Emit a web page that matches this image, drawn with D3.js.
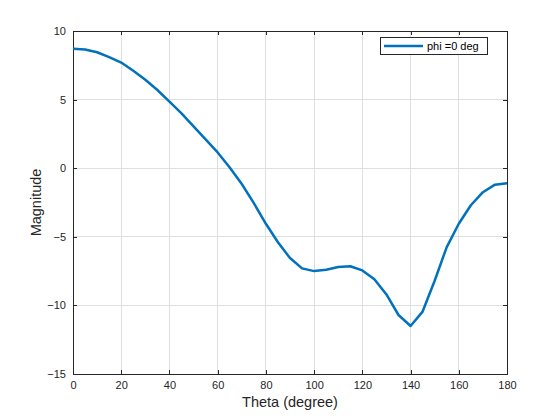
<!DOCTYPE html>
<html><head><meta charset="utf-8">
<script src="https://cdn.jsdelivr.net/npm/d3@7/dist/d3.min.js"></script>
<style>body{margin:0;background:#fff}svg{display:block}text{font-family:"Liberation Sans",Arial,sans-serif}</style>
</head><body><svg id="c" width="560" height="420"></svg>
<script>
const theta = [0,5,10,15,20,25,30,35,40,45,50,55,60,65,70,75,80,85,90,95,100,105,110,115,120,125,130,135,140,145,150,155,160,165,170,175,180];
const magnitude = [8.7,8.65,8.45,8.1,7.7,7.1,6.45,5.7,4.85,4.0,3.05,2.1,1.15,0.05,-1.15,-2.55,-4.05,-5.4,-6.55,-7.3,-7.5,-7.4,-7.2,-7.15,-7.45,-8.1,-9.2,-10.7,-11.5,-10.45,-8.2,-5.75,-4.05,-2.7,-1.75,-1.2,-1.1];
const xTicks = [0,20,40,60,80,100,120,140,160,180];
const yTicks = [-15,-10,-5,0,5,10];
const legendLabel = "phi =0 deg";

const svg = d3.select("#c");
const L=73,R=507,T=31,B=374;
const x = d3.scaleLinear().domain([0,180]).range([L,R]);
const y = d3.scaleLinear().domain([-15,10]).range([B,T]);
const g = svg.append("g");
// grid
g.selectAll(".gx").data(xTicks).enter().append("line")
 .attr("x1",d=>x(d)).attr("x2",d=>x(d)).attr("y1",T).attr("y2",B)
 .attr("stroke","#dfdfdf").attr("stroke-width",1).attr("shape-rendering","crispEdges");
g.selectAll(".gy").data(yTicks).enter().append("line")
 .attr("y1",d=>y(d)).attr("y2",d=>y(d)).attr("x1",L).attr("x2",R)
 .attr("stroke","#dfdfdf").attr("stroke-width",1).attr("shape-rendering","crispEdges");
// axes
const ax = d3.axisBottom(x).tickValues(xTicks).tickSizeInner(-4).tickSizeOuter(0).tickPadding(7);
const ay = d3.axisLeft(y).tickValues(yTicks).tickSizeInner(-4).tickSizeOuter(0).tickPadding(7);
const axT = d3.axisTop(x).tickValues(xTicks).tickSizeInner(-4).tickSizeOuter(0).tickFormat("");
const ayR = d3.axisRight(y).tickValues(yTicks).tickSizeInner(-4).tickSizeOuter(0).tickFormat("");
function style(s){s.selectAll("path,line").attr("stroke","#262626").attr("shape-rendering","crispEdges");
 s.selectAll("text").attr("fill","#262626").style("font-size","11px").style("font-family","'Liberation Sans',Arial,sans-serif");}
svg.append("g").attr("transform",`translate(0,${B})`).call(ax).call(style);
svg.append("g").attr("transform",`translate(${L},0)`).call(ay).call(style);
svg.append("g").attr("transform",`translate(0,${T})`).call(axT).call(style);
svg.append("g").attr("transform",`translate(${R},0)`).call(ayR).call(style);
// line
svg.append("path").datum(theta.map((t,i)=>[t,magnitude[i]]))
 .attr("d",d3.line().x(d=>x(d[0])).y(d=>y(d[1])))
 .attr("fill","none").attr("stroke","#0072BD").attr("stroke-width",2.5).attr("stroke-linejoin","round");
// labels
svg.append("text").attr("x",(L+R)/2).attr("y",407).attr("text-anchor","middle")
 .attr("fill","#262626").style("font-size","14.5px").text("Theta (degree)");
svg.append("text").attr("transform",`translate(41,${(T+B)/2}) rotate(-90)`).attr("text-anchor","middle")
 .attr("fill","#262626").style("font-size","14.5px").text("Magnitude");
// legend
const lg = svg.append("g");
lg.append("rect").attr("x",380.5).attr("y",37.5).attr("width",107).attr("height",17)
 .attr("fill","#fff").attr("stroke","#262626").attr("stroke-width",1);
lg.append("line").attr("x1",384).attr("x2",423).attr("y1",46).attr("y2",46)
 .attr("stroke","#0072BD").attr("stroke-width",2.5);
lg.append("text").attr("x",427).attr("y",50).attr("fill","#000").style("font-size","11px").text(legendLabel);
</script></body></html>
